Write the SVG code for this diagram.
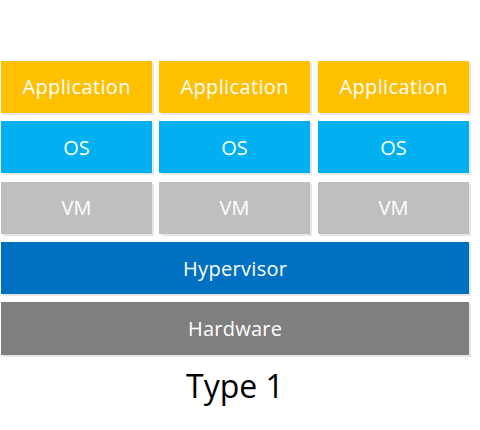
<svg xmlns="http://www.w3.org/2000/svg" width="480" height="430" viewBox="0 0 480 430">
<style>
.sh{fill:#e6e6e6}
.app{fill:#FFC000}
.os{fill:#00B0F0}
.vm{fill:#BFBFBF}
.hv{fill:#0070C0}
.hw{fill:#7F7F7F}
.t{font-family:"Open Sans","Noto Sans",sans-serif;font-size:20px;fill:#fff;text-anchor:middle}
.cap{font-family:"Open Sans","Noto Sans",sans-serif;font-size:32px;fill:#000;text-anchor:middle}
</style>
<rect width="480" height="430" fill="#fff"/>
<g id="app1"><rect class="sh" x="3" y="63" width="151" height="52"/><rect class="app" x="1" y="61" width="151" height="52"/><text class="t" x="76.5" y="94" textLength="108" lengthAdjust="spacing">Application</text></g>
<g id="app2"><rect class="sh" x="161" y="63" width="151" height="52"/><rect class="app" x="159" y="61" width="151" height="52"/><text class="t" x="234.5" y="94" textLength="108" lengthAdjust="spacing">Application</text></g>
<g id="app3"><rect class="sh" x="320" y="63" width="151" height="52"/><rect class="app" x="318" y="61" width="151" height="52"/><text class="t" x="393.5" y="94" textLength="108" lengthAdjust="spacing">Application</text></g>
<g id="os1"><rect class="sh" x="3" y="123" width="151" height="52"/><rect class="os" x="1" y="121" width="151" height="52"/><text class="t" x="76.5" y="155">OS</text></g>
<g id="os2"><rect class="sh" x="161" y="123" width="151" height="52"/><rect class="os" x="159" y="121" width="151" height="52"/><text class="t" x="234.5" y="155">OS</text></g>
<g id="os3"><rect class="sh" x="320" y="123" width="151" height="52"/><rect class="os" x="318" y="121" width="151" height="52"/><text class="t" x="393.5" y="155">OS</text></g>
<g id="vm1"><rect class="sh" x="3" y="184" width="151" height="52"/><rect class="vm" x="1" y="182" width="151" height="52"/><text class="t" x="76.5" y="215">VM</text></g>
<g id="vm2"><rect class="sh" x="161" y="184" width="151" height="52"/><rect class="vm" x="159" y="182" width="151" height="52"/><text class="t" x="234.5" y="215">VM</text></g>
<g id="vm3"><rect class="sh" x="320" y="184" width="151" height="52"/><rect class="vm" x="318" y="182" width="151" height="52"/><text class="t" x="393.5" y="215">VM</text></g>
<g id="hypervisor"><rect class="sh" x="3" y="244" width="468" height="52"/><rect class="hv" x="1" y="242" width="468" height="52"/><text class="t" x="235" y="276" textLength="104" lengthAdjust="spacing">Hypervisor</text></g>
<g id="hardware"><rect class="sh" x="3" y="304" width="468" height="53"/><rect class="hw" x="1" y="302" width="468" height="53"/><text class="t" x="235" y="336" textLength="94" lengthAdjust="spacing">Hardware</text></g>
<g id="connectors"></g>
<text class="cap" x="235" y="398">Type 1</text>
</svg>
